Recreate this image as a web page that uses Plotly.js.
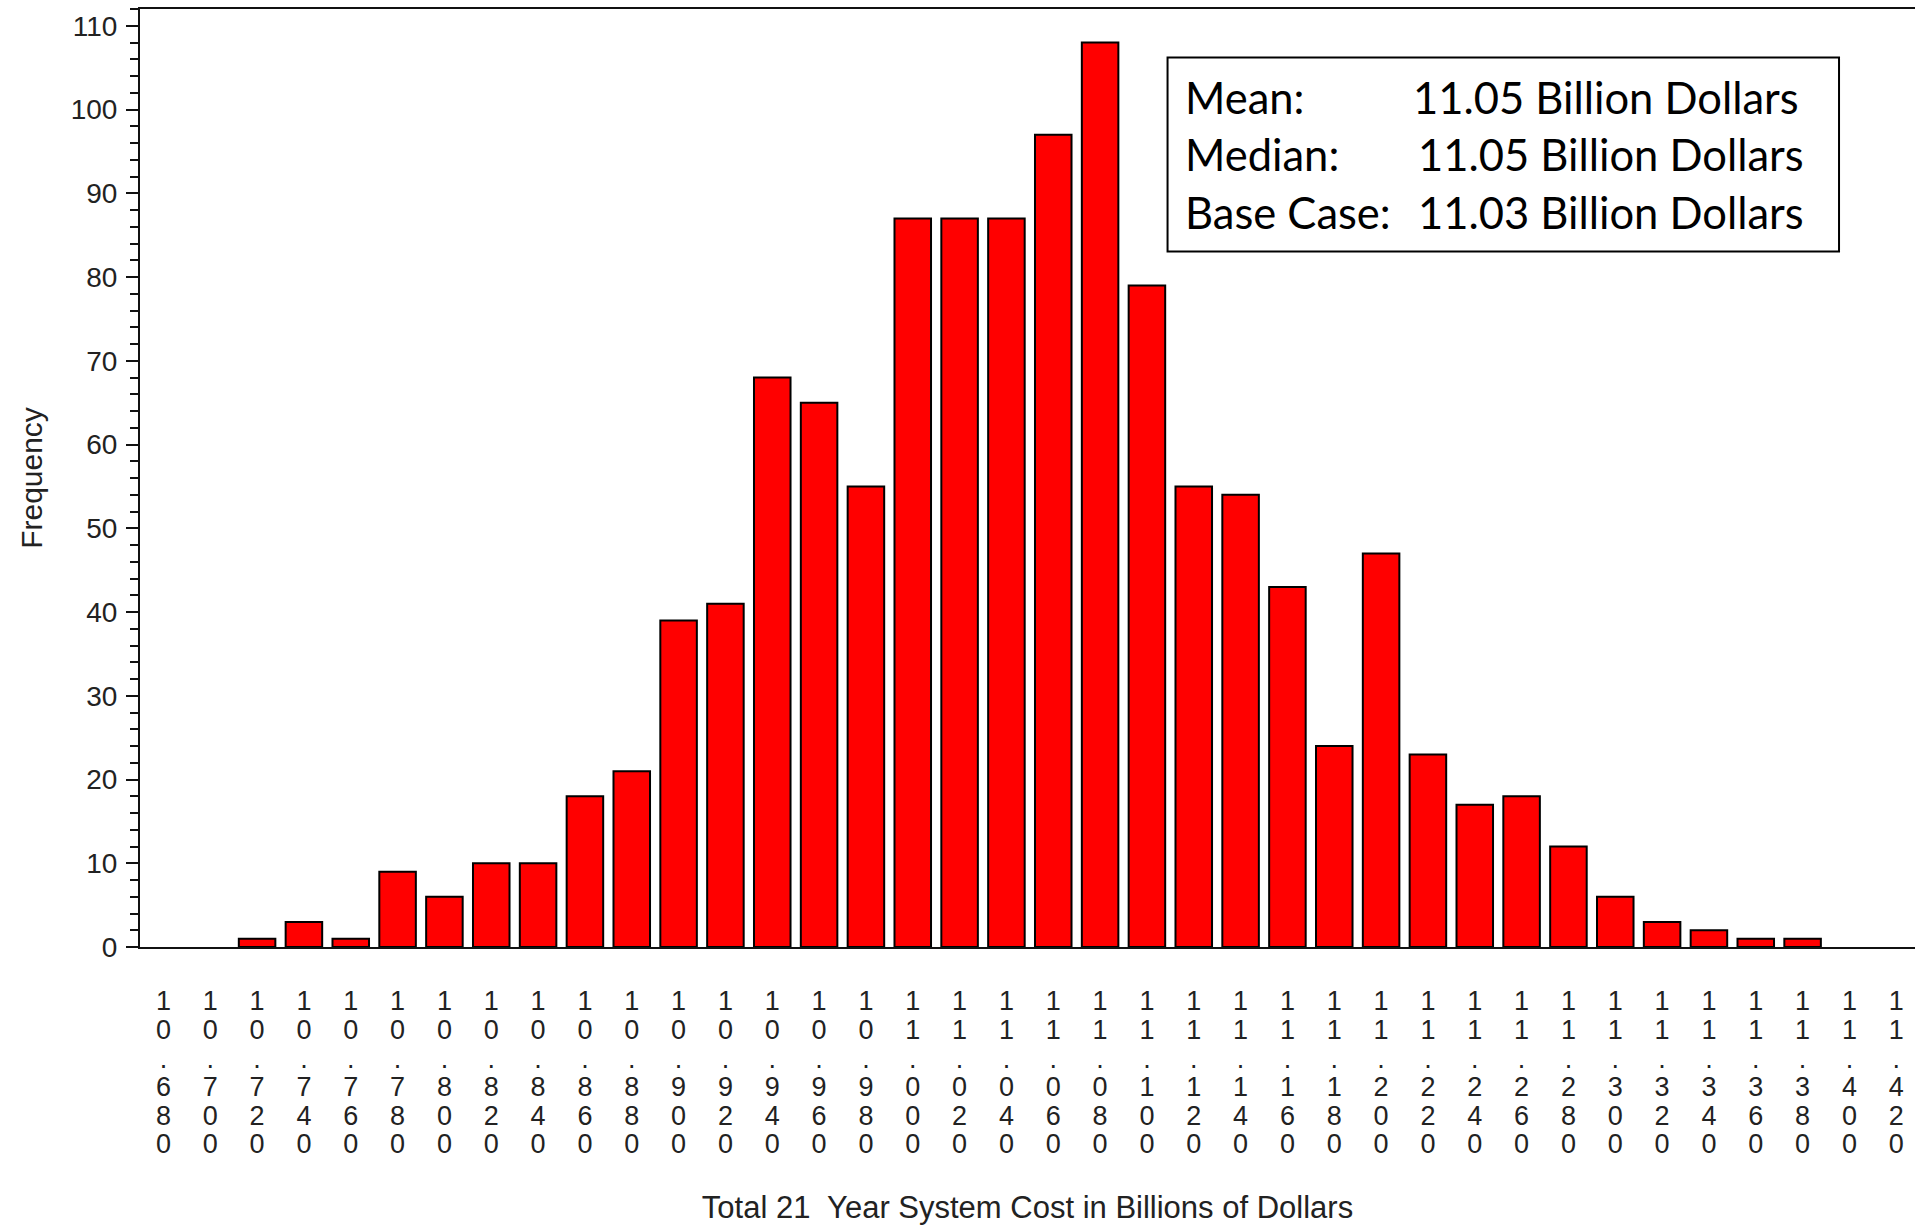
<!DOCTYPE html>
<html>
<head>
<meta charset="utf-8">
<script src="https://cdn.plot.ly/plotly-3.0.1.min.js"></script>
<style>
  html, body { margin: 0; padding: 0; background: #ffffff; overflow: hidden; }
  #chart { width: 1915px; height: 1225px; }
</style>
</head>
<body>
<div id="chart"></div>
<script>
// ---- data ----
const costBins = ["10.680","10.700","10.720","10.740","10.760","10.780","10.800","10.820","10.840","10.860",
                  "10.880","10.900","10.920","10.940","10.960","10.980","11.000","11.020","11.040","11.060",
                  "11.080","11.100","11.120","11.140","11.160","11.180","11.200","11.220","11.240","11.260",
                  "11.280","11.300","11.320","11.340","11.360","11.380","11.400","11.420"];
const frequency = [0, 0, 1, 3, 1, 9, 6, 10, 10, 18,
                   21, 39, 41, 68, 65, 55, 87, 87, 87, 97,
                   108, 79, 55, 54, 43, 24, 47, 23, 17, 18,
                   12, 6, 3, 2, 1, 1, 0, 0];
const statLabels = ["Mean:", "Median:", "Base Case:"];
const statValues = ["11.05 Billion Dollars", "11.05 Billion Dollars", "11.03 Billion Dollars"];
const xTitle = "Total 21  Year System Cost in Billions of Dollars";
const yTitle = "Frequency";

// vertical (stacked-character) tick labels
const stackedTicks = costBins.map(s => s.split("").map(c => "<span style='font-size:27px'>" + c + "</span>").join("<br>"));

const trace = {
  type: "bar",
  x: costBins,
  y: frequency,
  marker: {
    color: "#ff0000",
    line: { color: "#000000", width: frequency.map(v => (v > 0 ? 2 : 0)) }
  },
  hoverinfo: "x+y"
};

const statRowsY = [0.9067, 0.8454, 0.7831];
const statValueX = [0.7163, 0.7186, 0.7186];
const annotations = [];
statLabels.forEach((lab, i) => {
  annotations.push({
    xref: "paper", yref: "paper", x: 0.5875, y: statRowsY[i],
    xanchor: "left", yanchor: "middle", showarrow: false, text: lab,
    font: { family: "Lato, 'Open Sans', sans-serif", size: 43.5, color: "#000" }
  });
  annotations.push({
    xref: "paper", yref: "paper", x: statValueX[i], y: statRowsY[i],
    xanchor: "left", yanchor: "middle", showarrow: false, text: statValues[i],
    font: { family: "Lato, 'Open Sans', sans-serif", size: 43.5, color: "#000" }
  });
});

const layout = {
  width: 1915, height: 1225,
  margin: { l: 140, r: 0, t: 9, b: 278, pad: 0 },
  paper_bgcolor: "#ffffff", plot_bgcolor: "#ffffff",
  showlegend: false,
  bargap: 0.22,
  font: { family: "'Liberation Sans', Arial, sans-serif", color: "#222" },
  xaxis: {
    type: "category",
    range: [-0.5, 37.4],
    tickmode: "array",
    tickvals: costBins,
    ticktext: stackedTicks,
    tickangle: 0,
    ticks: "",
    showgrid: false, zeroline: false,
    showline: true, linecolor: "#111", linewidth: 2, mirror: true,
    tickfont: { size: 22, color: "#222" },
    ticklabelstandoff: 35,
    title: { text: xTitle, font: { size: 31, color: "#222" }, standoff: 40 },
    automargin: false
  },
  yaxis: {
    range: [0, 112],
    tickmode: "linear", tick0: 0, dtick: 10,
    ticks: "outside", ticklen: 12, tickwidth: 2, tickcolor: "#111",
    minor: { dtick: 2, ticks: "outside", ticklen: 8, tickwidth: 2, tickcolor: "#111" },
    showgrid: false, zeroline: false,
    showline: true, linecolor: "#111", linewidth: 2, mirror: false,
    tickfont: { size: 28, color: "#222" },
    ticklabelstandoff: 3,
    title: { text: yTitle, font: { size: 30, color: "#222" }, standoff: 19 },
    automargin: false
  },
  shapes: [{
    type: "rect", xref: "paper", yref: "paper",
    x0: 0.5789, x1: 0.9572, y0: 0.7414, y1: 0.9484,
    line: { color: "#000", width: 2 }, fillcolor: "rgba(0,0,0,0)"
  }],
  annotations: annotations
};

Plotly.newPlot("chart", [trace], layout, { displayModeBar: false, responsive: false });
</script>
</body>
</html>
